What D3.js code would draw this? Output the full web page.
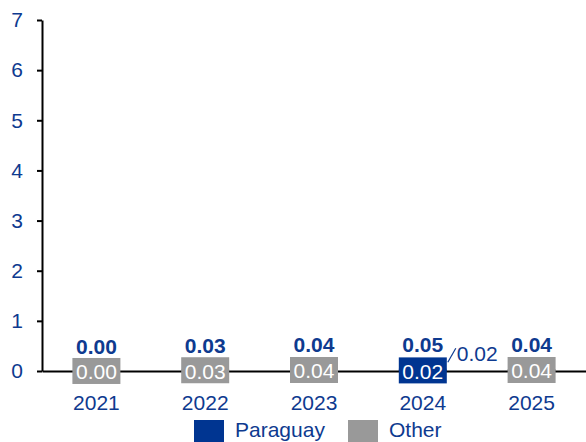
<!DOCTYPE html>
<html><head><meta charset="utf-8">
<script src="https://cdn.jsdelivr.net/npm/d3@7"></script>
<style>
html,body{margin:0;padding:0;background:#fff;overflow:hidden}
text{font-family:"Liberation Sans",Arial,sans-serif}
</style></head>
<body><svg id="c" width="586" height="442"></svg>
<script>
const years = ["2021","2022","2023","2024","2025"];
const paraguay = [0, 0, 0, 0.024, 0];
const other = [0.001, 0.03, 0.04, 0.024, 0.04];
const yTicks = [0,1,2,3,4,5,6,7];
const seriesNames = ["Paraguay","Other"];
const colors = {Paraguay:"#003591", Other:"#999999"};
const textBlue = "#0e3a8f";
const FS = 21;

const svg = d3.select("#c");
const m = {l:42, r:0, t:20, b:71};
const W = 586, H = 442;
const x = d3.scaleBand().domain(years).range([m.l, W - m.r]).paddingInner(0).paddingOuter(0);
const y = d3.scaleLinear().domain([0,7]).range([H - m.b, m.t]);

const rows = years.map((yr,i)=>({year:yr, Paraguay:paraguay[i], Other:other[i]}));
const stack = d3.stack().keys(seriesNames)(rows);
const barW = 48;

// bars
stack.forEach(s=>{
  svg.append("g").selectAll("rect").data(s).join("rect")
    .attr("x", d=>x(d.data.year)+x.bandwidth()/2-barW/2)
    .attr("width", barW)
    .attr("y", d=>y(d[1]))
    .attr("height", d=>Math.max(0,y(d[0])-y(d[1])))
    .attr("fill", colors[s.key]);
});

// y axis
const ya = svg.append("g").attr("transform",`translate(${m.l},0)`)
  .call(d3.axisLeft(y).tickValues(yTicks).tickFormat(d3.format("d")).tickSize(5).tickSizeOuter(0).tickPadding(14));
ya.select(".domain").attr("stroke","#000").attr("stroke-width",2);
ya.selectAll(".tick line").attr("stroke","#000").attr("stroke-width",2);
ya.selectAll(".tick text").attr("fill",textBlue).attr("font-size",FS).attr("font-family","Liberation Sans, Arial, sans-serif");

// x axis
const xa = svg.append("g").attr("transform",`translate(0,${y(0)})`)
  .call(d3.axisBottom(x).tickSize(0).tickSizeOuter(0).tickPadding(24));
xa.select(".domain").attr("stroke","#000").attr("stroke-width",2);
xa.selectAll(".tick text").attr("fill",textBlue).attr("font-size",FS).attr("font-family","Liberation Sans, Arial, sans-serif");

// segment labels
function boxLabel(cx, cy, txt, fill){
  const g = svg.append("g");
  g.append("rect").attr("x",cx-24).attr("y",cy-13).attr("width",48).attr("height",26).attr("fill",fill);
  g.append("text").attr("x",cx).attr("y",cy+1).attr("text-anchor","middle")
    .attr("dominant-baseline","central").attr("font-size",FS).attr("fill","#fff").text(txt);
}
rows.forEach((r,i)=>{
  const cx = x(r.year)+x.bandwidth()/2;
  const sp = stack[0][i], so = stack[1][i];
  if (r.Paraguay > 0) {
    boxLabel(cx, y((sp[0]+sp[1])/2), d3.format(".2f")(r.Paraguay), colors.Paraguay);
    // Other label as callout
    const x0 = cx+25, y0 = y((so[0]+so[1])/2)-7;
    svg.append("line").attr("x1",x0).attr("y1",y0).attr("x2",x0+8).attr("y2",y0-14)
      .attr("stroke",textBlue).attr("stroke-width",1.2);
    svg.append("text").attr("x",x0+9).attr("y",y0-9).attr("dominant-baseline","central")
      .attr("font-size",FS).attr("fill",textBlue).text(d3.format(".2f")(r.Other));
  } else {
    boxLabel(cx, y((so[0]+so[1])/2), d3.format(".2f")(r.Other), colors.Other);
  }
  svg.append("text").attr("x",cx).attr("y",y(r.Paraguay+r.Other)-24).attr("text-anchor","middle")
    .attr("dominant-baseline","central").attr("font-size",FS).attr("font-weight","bold")
    .attr("fill",textBlue).text(d3.format(".2f")(r.Paraguay+r.Other));
});

// legend
const leg = svg.append("g");
const legItems = [{k:"Paraguay", x:194},{k:"Other", x:348}];
legItems.forEach(it=>{
  leg.append("rect").attr("x",it.x).attr("y",420).attr("width",30).attr("height",22).attr("fill",colors[it.k]);
  leg.append("text").attr("x",it.x+41).attr("y",437)
    .attr("font-size",FS).attr("fill",textBlue).text(it.k);
});
</script></body></html>
